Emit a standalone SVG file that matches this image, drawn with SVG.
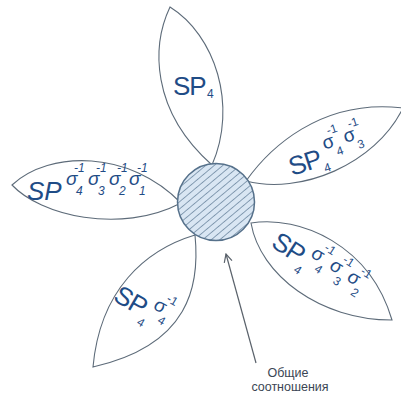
<svg xmlns="http://www.w3.org/2000/svg" width="401" height="397" viewBox="0 0 401 397">
<style>
.petal{fill:#fff;stroke:#5d6b79;stroke-width:1.1}
.sp{font-family:"Liberation Sans",Arial,sans-serif;fill:#1f4c86;font-size:26px}
.sg{font-family:"Liberation Sans",Arial,sans-serif;fill:#1f4c86;font-size:19px}
.ix{font-family:"Liberation Sans",Arial,sans-serif;fill:#1f4c86;font-size:12px}
.it{font-style:italic}
.lbl{font-family:"Liberation Sans",Arial,sans-serif;fill:#3b4654;font-size:12.5px;text-anchor:middle}
.conn{stroke:#5a626b;stroke-width:1.2;fill:none}
</style>
<defs>
<pattern id="hatch" width="5.5" height="5.5" patternUnits="userSpaceOnUse" patternTransform="rotate(50)">
<rect width="5.5" height="5.5" fill="#d9e6f3"/>
<line x1="0" y1="0" x2="0" y2="5.5" stroke="#4f6d8a" stroke-width="1.2"/>
</pattern>
<marker id="arr" markerWidth="10" markerHeight="10" refX="9" refY="5" orient="auto" markerUnits="userSpaceOnUse">
<path d="M1,1 L9,5 L1,9" fill="none" stroke="#5a626b" stroke-width="1.2"/>
</marker>
</defs>

<g id="petal-top">
<path class="petal" d="M170,7 C152,45 150,110 212,165 C238,105 215,35 170,7 Z"/>
<text class="sp" x="173" y="95" letter-spacing="-1">SP</text>
<text class="ix" x="207" y="98" font-size="16">4</text>
</g>

<g id="petal-upper-right">
<path class="petal" d="M246,181 C268,150 320,98 403,108 C375,165 300,195 246,181 Z"/>
<g transform="translate(292,176) rotate(-18)">
<text class="sp" x="0" y="0" letter-spacing="-1">SP</text>
<text class="ix" x="33" y="7" font-size="15">4</text>
<text class="sg" x="39" y="-15">σ</text><text class="ix" x="50" y="-5">4</text><text class="ix" x="47" y="-28">-1</text>
<text class="sg" x="61" y="-15">σ</text><text class="ix" x="72" y="-5">3</text><text class="ix" x="69" y="-28">-1</text>
</g>
</g>

<g id="petal-left">
<path class="petal" d="M12,185 C50,150 130,150 181,203 C120,235 40,215 12,185 Z"/>
<g transform="translate(27,200)">
<text class="sp it" x="0" y="0" font-size="27">SP</text>
<text class="sg it" x="39" y="-15">σ</text><text class="ix it" x="49" y="-5">4</text><text class="ix it" x="47" y="-28">-1</text>
<text class="sg it" x="61" y="-15">σ</text><text class="ix it" x="71" y="-5">3</text><text class="ix it" x="69" y="-28">-1</text>
<text class="sg it" x="82" y="-15">σ</text><text class="ix it" x="92" y="-5">2</text><text class="ix it" x="90" y="-28">-1</text>
<text class="sg it" x="102" y="-15">σ</text><text class="ix it" x="112" y="-5">1</text><text class="ix it" x="110" y="-28">-1</text>
</g>
</g>

<g id="petal-lower-right">
<path class="petal" d="M251,223 C300,215 370,245 392,320 C320,320 260,275 251,223 Z"/>
<g transform="translate(270,246) rotate(33)">
<text class="sp" x="0" y="0" letter-spacing="-1">SP</text>
<text class="ix" x="33" y="9" font-size="15">4</text>
<text class="sg" x="39" y="-13">σ</text><text class="ix" x="50" y="-3">4</text><text class="ix" x="47" y="-26">-1</text>
<text class="sg" x="61" y="-13">σ</text><text class="ix" x="72" y="-3">3</text><text class="ix" x="69" y="-26">-1</text>
<text class="sg" x="82" y="-13">σ</text><text class="ix" x="93" y="-3">2</text><text class="ix" x="90" y="-26">-1</text>
</g>
</g>

<g id="petal-lower-left">
<path class="petal" d="M195,235 C145,250 100,290 93,367 C190,345 200,285 195,235 Z"/>
<g transform="translate(112,300) rotate(30)">
<text class="sp" x="0" y="0" letter-spacing="-1">SP</text>
<text class="ix" x="33" y="9" font-size="15">4</text>
<text class="sg" x="39" y="-13">σ</text><text class="ix" x="50" y="-3">4</text><text class="ix" x="47" y="-26">-1</text>
</g>
</g>

<g id="common-core">
<circle cx="216" cy="202" r="38.5" fill="url(#hatch)" stroke="#56718b" stroke-width="1.5"/>
</g>

<g id="connectors">
<line class="conn" x1="256" y1="363" x2="226" y2="254" marker-end="url(#arr)"/>
</g>

<g id="label-common">
<text class="lbl" x="288" y="377">Общие</text>
<text class="lbl" x="290" y="391">соотношения</text>
</g>
</svg>
